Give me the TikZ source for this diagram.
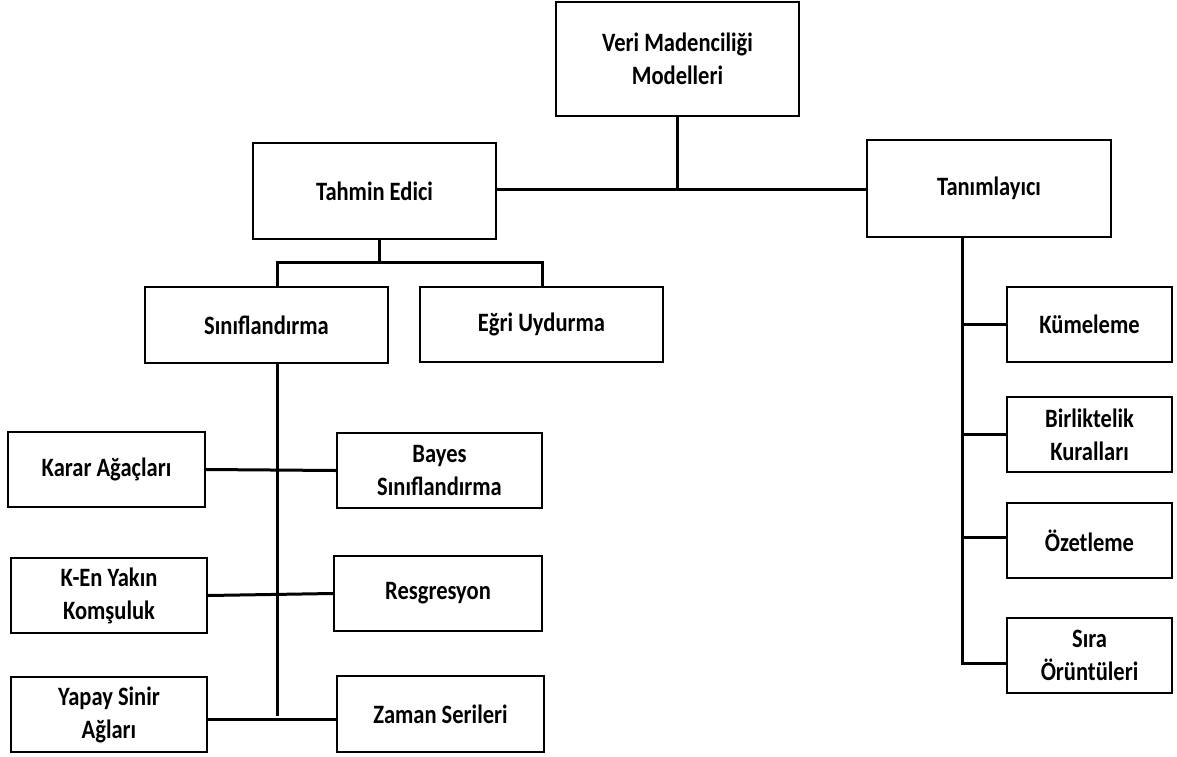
\documentclass[tikz,border=0pt]{standalone}
\usepackage{fontspec}
\setmainfont{Carlito}[FakeStretch=0.85]
\begin{document}
\begin{tikzpicture}[x=1pt,y=-1pt,
  box/.style={draw=black,line width=2.4pt,fill=white,inner sep=0pt,
    align=center,font=\fontsize{26.5}{33}\selectfont\bfseries},
  wire/.style={draw=black,line width=3pt}]
\useasboundingbox (0,0) rectangle (1177,757);

% top level
\node[box,minimum width=243,minimum height=114] (veri) at (677.5,59) {Veri Madenciliği\\Modelleri};
\node[box,minimum width=243,minimum height=96] (tahmin) at (374.5,191) {Tahmin Edici};
\node[box,minimum width=244,minimum height=97] (tanim) at (989,188.5) {Tanımlayıcı};

% predictive branch
\node[box,minimum width=243,minimum height=76] (sinif) at (266.5,325) {Sınıflandırma};
\node[box,minimum width=243,minimum height=75] (egri) at (541.5,324.5) {Eğri Uydurma};

\node[box,minimum width=197,minimum height=75] (karar) at (106.5,469.5) {Karar Ağaçları};
\node[box,minimum width=205,minimum height=75] (bayes) at (439.5,470.5) {Bayes\\Sınıflandırma};
\node[box,minimum width=196,minimum height=75] (ken) at (109,595.5) {K-En Yakın\\Komşuluk};
\node[box,minimum width=208,minimum height=75] (resg) at (438,593.5) {Resgresyon};
\node[box,minimum width=196,minimum height=75] (yapay) at (109,714.5) {Yapay Sinir\\Ağları};
\node[box,minimum width=207,minimum height=76] (zaman) at (440.5,714) {Zaman Serileri};

% descriptive branch
\node[box,minimum width=165,minimum height=75] (kume) at (1089.5,324.5) {Kümeleme};
\node[box,minimum width=165,minimum height=75] (birlik) at (1089.5,434.5) {Birliktelik\\Kuralları};
\node[box,minimum width=165,minimum height=75] (ozet) at (1089.5,540.5) {Özetleme};
\node[box,minimum width=165,minimum height=75] (sira) at (1089.5,655.5) {Sıra\\Örüntüleri};

% junction points
\coordinate (jtop) at (677,189);
\coordinate (jpred) at (379,262);
\coordinate (bsinif) at (277,262);
\coordinate (begri) at (542,262);
\coordinate (sinifend) at (277,716);
\coordinate (yrow) at (0,719);
\coordinate (tanx) at (962,0);
\coordinate (kumey) at (0,324);
\coordinate (birliky) at (0,434);
\coordinate (ozety) at (0,537);
\coordinate (siray) at (0,663);

% connectors
\draw[wire] (veri.south -| jtop) -- (jtop);
\draw[wire] (tahmin.east |- jtop) -- (tanim.west |- jtop);

\draw[wire] (jpred |- tahmin.south) -- (jpred);
\draw[wire] (bsinif |- sinif.north) -- (bsinif) -- (begri) -- (begri |- egri.north);

\draw[wire] (sinifend |- sinif.south) -- (sinifend);
\draw[wire] (karar.east) -- (bayes.west);
\draw[wire] (ken.east) -- (resg.west);
\draw[wire] (yapay.east |- yrow) -- (zaman.west |- yrow);

\draw[wire] (tanx |- tanim.south) -- (tanx |- siray) -- (sira.west |- siray);
\draw[wire] (tanx |- kumey) -- (kume.west |- kumey);
\draw[wire] (tanx |- birliky) -- (birlik.west |- birliky);
\draw[wire] (tanx |- ozety) -- (ozet.west |- ozety);
\end{tikzpicture}
\end{document}
